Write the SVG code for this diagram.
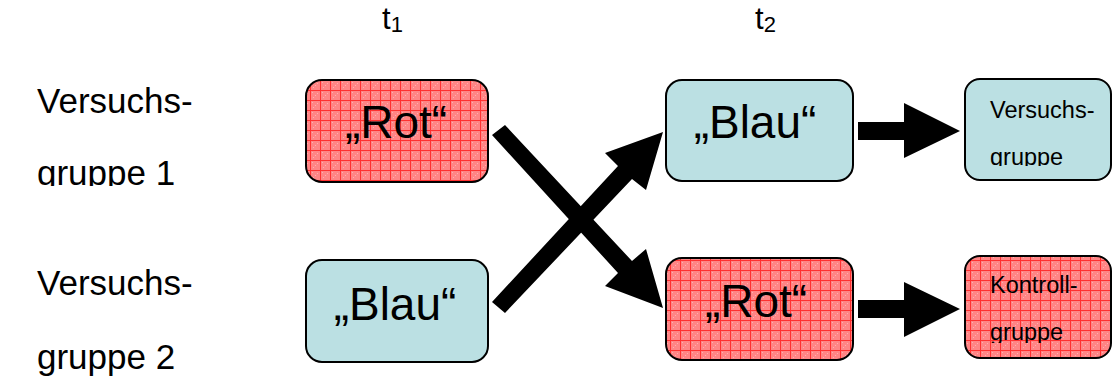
<svg xmlns="http://www.w3.org/2000/svg" width="1114" height="380" viewBox="0 0 1114 380">
  <defs>
    <!-- red hatched grid fill -->
    <pattern id="redGrid" x="0" y="0" width="10" height="10" patternUnits="userSpaceOnUse">
      <rect width="10" height="10" fill="#ff8585"/>
      <rect x="2" y="2" width="1" height="1" fill="#ffb0b0"/>
      <rect x="5" y="5" width="1" height="1" fill="#ffb0b0"/>
      <rect x="7" y="3" width="1" height="1" fill="#ffb0b0"/>
      <rect x="3" y="7" width="1" height="1" fill="#ffb0b0"/>
      <rect x="0" y="0" width="10" height="1" fill="#ff3030"/>
      <rect x="0" y="0" width="1" height="10" fill="#ff3030"/>
    </pattern>
    <clipPath id="clipLeft1"><rect x="0" y="0" width="300" height="186"/></clipPath>
    <clipPath id="clipSmall1"><rect x="960" y="0" width="154" height="166"/></clipPath>
    <clipPath id="clipSmall2"><rect x="960" y="240" width="154" height="103"/></clipPath>
  </defs>
  <style>
    .txt { font-family: "Liberation Sans", Arial, sans-serif; fill: #000; }
    .big { font-size: 46px; text-anchor: middle; }
    .side { font-size: 35px; }
    .small { font-size: 23.5px; }
    .time { font-size: 31px; }
    .sub { font-size: 22px; }
    .red { fill: url(#redGrid); stroke: #000; stroke-width: 2; }
    .blue { fill: #bbe0e3; stroke: #000; stroke-width: 2; }
    .arrow { fill: #000; }
  </style>

  <!-- time labels -->
  <g id="time-labels">
    <text class="txt time" x="382" y="29">t<tspan class="sub" dy="3">1</tspan></text>
    <text class="txt time" x="755" y="29">t<tspan class="sub" dy="3">2</tspan></text>
  </g>

  <!-- group labels -->
  <g id="label-group1" clip-path="url(#clipLeft1)">
    <text class="txt side" x="37" y="113">Versuchs-</text>
    <text class="txt side" x="37" y="185">gruppe 1</text>
  </g>
  <g id="label-group2">
    <text class="txt side" x="37" y="295">Versuchs-</text>
    <text class="txt side" x="37" y="369">gruppe 2</text>
  </g>

  <!-- t1 nodes -->
  <g id="node-t1-rot">
    <rect class="red" x="306" y="80" width="182" height="102" rx="16"/>
    <text class="txt big" x="396" y="138">„Rot“</text>
  </g>
  <g id="node-t1-blau">
    <rect class="blue" x="306" y="260" width="182" height="102" rx="16"/>
    <text class="txt big" x="395" y="320">„Blau“</text>
  </g>

  <!-- t2 nodes -->
  <g id="node-t2-blau">
    <rect class="blue" x="666" y="80" width="187" height="101" rx="16"/>
    <text class="txt big" x="755" y="138">„Blau“</text>
  </g>
  <g id="node-t2-rot">
    <rect class="red" x="666" y="258" width="187" height="102" rx="16"/>
    <text class="txt big" x="756" y="317">„Rot“</text>
  </g>

  <!-- outcome nodes -->
  <g id="node-versuchsgruppe">
    <rect class="blue" x="965" y="79" width="146" height="101" rx="15"/>
    <g clip-path="url(#clipSmall1)">
      <text class="txt small" x="990" y="118">Versuchs-</text>
      <text class="txt small" x="990" y="165">gruppe</text>
    </g>
  </g>
  <g id="node-kontrollgruppe">
    <rect class="red" x="965" y="256" width="146" height="102" rx="15"/>
    <g clip-path="url(#clipSmall2)">
      <text class="txt small" x="990" y="293">Kontroll-</text>
      <text class="txt small" x="990" y="340">gruppe</text>
    </g>
  </g>

  <!-- connectors -->
  <g id="connectors">
    <polygon class="arrow" points="505,125 632,261 646,249 663,308 605,286 618,273 492,135"/>
    <polygon class="arrow" points="492,302 618,166 605,153 663,132 646,190 632,179 505,313"/>
    <polygon class="arrow" points="858,122 904,122 904,103 960,131 904,158 904,140 858,140"/>
    <polygon class="arrow" points="858,300 904,300 904,282 960,309 904,337 904,318 858,318"/>
  </g>
</svg>
